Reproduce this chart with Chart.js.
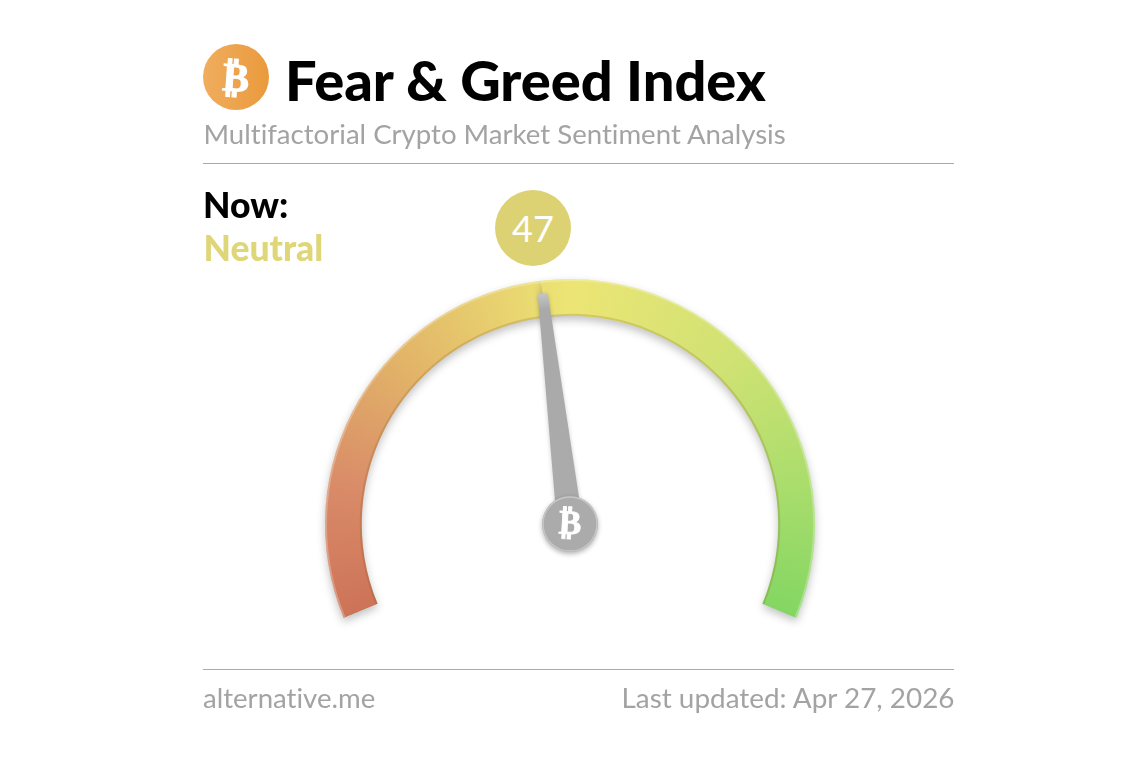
<!DOCTYPE html>
<html><head><meta charset="utf-8">
<script src="https://cdn.jsdelivr.net/npm/chart.js@4"></script>
<style>
html,body{margin:0;padding:0;background:#fff;width:1140px;height:759px;overflow:hidden;font-family:Lato,sans-serif;font-variant-ligatures:none}
#c{position:absolute;left:0;top:0}
.t{position:absolute;white-space:nowrap;line-height:1}
.r{position:absolute;left:203px;width:751px;height:1px;background:#aaa}
#icon{position:absolute;left:203px;top:44px;width:66px;height:66px;border-radius:50%;background:linear-gradient(90deg,#f0ad5e,#ea9a3c)}
#icon span{position:absolute;left:0;top:0;width:66px;height:66px;text-align:center;color:#fff;font:700 40px/66px "DejaVu Sans";-webkit-text-stroke:1px #fff;transform:rotate(4deg)}
#bub{position:absolute;left:495px;top:190px;width:76px;height:76px;border-radius:50%;background:#dcd274;color:#fff;text-align:center;font:400 36px/76px Lato}
</style></head><body>
<canvas id="c" width="1140" height="759"></canvas>
<div id="icon"><span>₿</span></div>
<div class="t" id="title" style="left:285px;top:52px;font-size:56px;font-weight:900;color:#000">Fear &amp; Greed Index</div>
<div class="t" id="sub" style="left:203.5px;top:120px;font-size:27.6px;color:#a3a3a3">Multifactorial Crypto Market Sentiment Analysis</div>
<div class="r" style="top:163px"></div>
<div class="t" style="left:203px;top:187px;font-size:35.6px;font-weight:900;color:#000">Now:</div>
<div class="t" id="cls" style="left:203.5px;top:230px;font-size:35.5px;font-weight:900;color:#dfd678"></div>
<div id="bub"></div>
<div class="r" style="top:669px"></div>
<div class="t" style="left:203px;top:683.5px;font-size:27.6px;color:#a3a3a3">alternative.me</div>
<div class="t" style="right:185.5px;top:683.5px;font-size:27.9px;color:#a3a3a3">Last updated: Apr 27, 2026</div>
<script>
const scoreValue = [47];
const scoreMax = [100];
const classification = ["Neutral"];
const gaugeStops = [0, 0.14, 0.3, 0.5, 0.7, 0.86, 1];
const gaugeColors = ["#cd7358", "#d98b68", "#e2b568", "#ece575", "#cfe273", "#a9dd6c", "#84d663"];

document.getElementById('bub').textContent = scoreValue[0];
document.getElementById('cls').textContent = classification[0];

const ROT = -112.5, SWEEP = 225;
const rad = d => d * Math.PI / 180;

const gaugeDecor = {
  id: 'gaugeDecor',
  beforeDatasetsDraw(chart) {
    const arc = chart.getDatasetMeta(0).data[0];
    const c = chart.ctx;
    const start = rad(ROT - 90);
    const g = c.createConicGradient(start, arc.x, arc.y);
    gaugeStops.forEach((s, i) => g.addColorStop(s * SWEEP / 360, gaugeColors[i]));
    g.addColorStop(1, gaugeColors[gaugeColors.length - 1]);
    chart.getDatasetMeta(0).data.forEach(a => { a.options.backgroundColor = g; });
    c.save();
    c.shadowColor = 'rgba(0,0,0,0.24)';
    c.shadowBlur = 9;
    c.shadowOffsetY = 4;
  },
  afterDatasetsDraw(chart) {
    const c = chart.ctx;
    c.restore();
    const arc = chart.getDatasetMeta(0).data[0];
    const a0 = rad(ROT - 90), a1 = rad(ROT - 90 + SWEEP);
    c.save();
    c.lineWidth = 2;
    c.strokeStyle = 'rgba(130,85,20,0.2)';
    c.beginPath(); c.arc(arc.x, arc.y, arc.innerRadius + 1, a0, a1); c.stroke();
    c.strokeStyle = 'rgba(255,255,255,0.25)';
    c.beginPath(); c.arc(arc.x, arc.y, arc.outerRadius - 1, a0, a1); c.stroke();
    c.restore();

    const ang = arc.endAngle;
    const L = 232, hubR = 28, wBase = 13, wTip = 5;
    c.save();
    c.translate(arc.x, arc.y);
    c.rotate(ang);
    c.shadowColor = 'rgba(0,0,0,0.2)'; c.shadowBlur = 4; c.shadowOffsetY = 1;
    const ng = c.createLinearGradient(0, 0, L, 0);
    ng.addColorStop(0, '#ababab'); ng.addColorStop(0.93, '#a9a9a9'); ng.addColorStop(1, '#c4c4c4');
    c.fillStyle = ng;
    c.beginPath();
    c.moveTo(0, -wBase); c.lineTo(L, -wTip); c.lineTo(L, wTip); c.lineTo(0, wBase);
    c.closePath(); c.fill();
    c.restore();

    c.save();
    c.shadowColor = 'rgba(0,0,0,0.3)'; c.shadowBlur = 5; c.shadowOffsetY = 2;
    c.fillStyle = '#ababab';
    c.beginPath(); c.arc(arc.x, arc.y, hubR, 0, Math.PI * 2); c.fill();
    c.shadowColor = 'transparent';
    c.strokeStyle = '#c6c6c6'; c.lineWidth = 1.5;
    c.beginPath(); c.arc(arc.x, arc.y, hubR - 1, 0, Math.PI * 2); c.stroke();
    c.translate(arc.x, arc.y); c.rotate(rad(3));
    c.fillStyle = '#fff'; c.strokeStyle = '#fff'; c.lineWidth = 0.8;
    c.font = '700 34px "DejaVu Sans"';
    c.textAlign = 'center'; c.textBaseline = 'middle';
    c.fillText('₿', 0, 1); c.strokeText('₿', 0, 1);
    c.restore();
  }
};

new Chart(document.getElementById('c'), {
  type: 'doughnut',
  data: {
    labels: [classification[0], ''],
    datasets: [{
      data: [scoreValue[0], scoreMax[0] - scoreValue[0]],
      backgroundColor: gaugeColors[3],
      borderWidth: 0,
      hoverOffset: 0
    }]
  },
  options: {
    responsive: false,
    animation: false,
    rotation: ROT,
    circumference: SWEEP,
    radius: 245,
    cutout: '85%',
    layout: { padding: { top: 138 } },
    plugins: { legend: { display: false }, tooltip: { enabled: false } }
  },
  plugins: [gaugeDecor]
});
</script>
</body></html>
